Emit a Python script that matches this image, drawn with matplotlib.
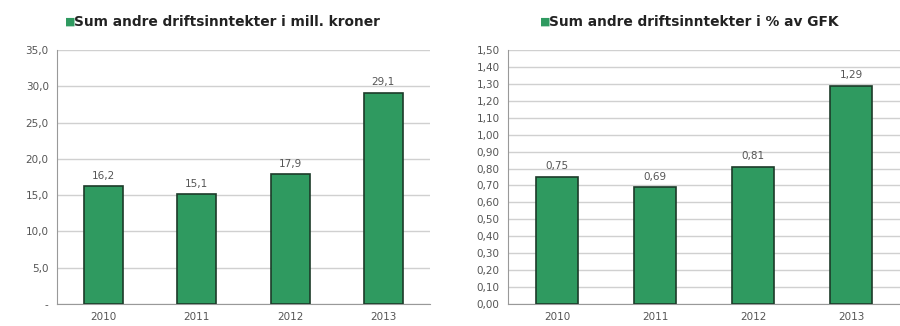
import numpy as np
import matplotlib.pyplot as plt

years = ['2010', '2011', '2012', '2013']
mill_kroner = [16.2, 15.1, 17.9, 29.1]
pct_gfk = [0.75, 0.69, 0.81, 1.29]

bar_color = '#2f9a60'
edge_color = '#1c3b29'
grid_color = '#d0d0d0'
text_color = '#555555'

plt.rcParams['font.family'] = 'DejaVu Sans'


def fmt(v, dec):
    return ('%.*f' % (dec, v)).replace('.', ',')


def draw(ax, values, ymax, step, dec, zero_label):
    x = np.arange(len(years))
    ax.bar(x, values, width=0.42, color=bar_color, edgecolor=edge_color, linewidth=1.2, zorder=3)
    ax.set_xlim(-0.5, len(years) - 0.5)
    ax.set_ylim(0, ymax)
    ticks = np.arange(0, ymax + step / 2, step)
    ax.set_yticks(ticks)
    labels = [fmt(t, dec) for t in ticks]
    if zero_label is not None:
        labels[0] = zero_label
    ax.set_yticklabels(labels)
    ax.set_xticks(x)
    ax.set_xticklabels(years)
    ax.yaxis.grid(True, color=grid_color, linewidth=1.0, zorder=0)
    ax.set_axisbelow(True)
    for s in ['top', 'right']:
        ax.spines[s].set_visible(False)
    for s in ['left', 'bottom']:
        ax.spines[s].set_color('#999999')
    ax.tick_params(axis='both', length=0, labelsize=7.5, colors=text_color)
    ax.tick_params(axis='y', pad=6)
    ax.tick_params(axis='x', pad=6)
    for xi, v in zip(x, values):
        ax.annotate(fmt(v, dec), (xi, v), xytext=(0, 4), textcoords='offset points',
                    ha='center', va='bottom', fontsize=7.5, color=text_color)


fig = plt.figure(figsize=(9, 3.26), dpi=100)
ax1 = fig.add_axes([57 / 900, 1 - 304 / 326, 373 / 900, 254 / 326])
ax2 = fig.add_axes([508 / 900, 1 - 304 / 326, 392 / 900, 254 / 326])

draw(ax1, mill_kroner, 35, 5, 1, '-')
draw(ax2, pct_gfk, 1.5, 0.1, 2, None)

# titles: legend-like square + bold text
titles = [('Sum andre driftsinntekter i mill. kroner', 65),
          ('Sum andre driftsinntekter i % av GFK', 540)]
for txt, left in titles:
    fig.text(left / 900, 1 - 22 / 326, '\u25a0', ha='left', va='center',
             fontsize=8, color=bar_color)
    fig.text((left + 9) / 900, 1 - 22 / 326, txt, ha='left', va='center',
             fontsize=9.9, fontweight='bold', color='#222222')

fig.savefig('out.png', dpi=100)
